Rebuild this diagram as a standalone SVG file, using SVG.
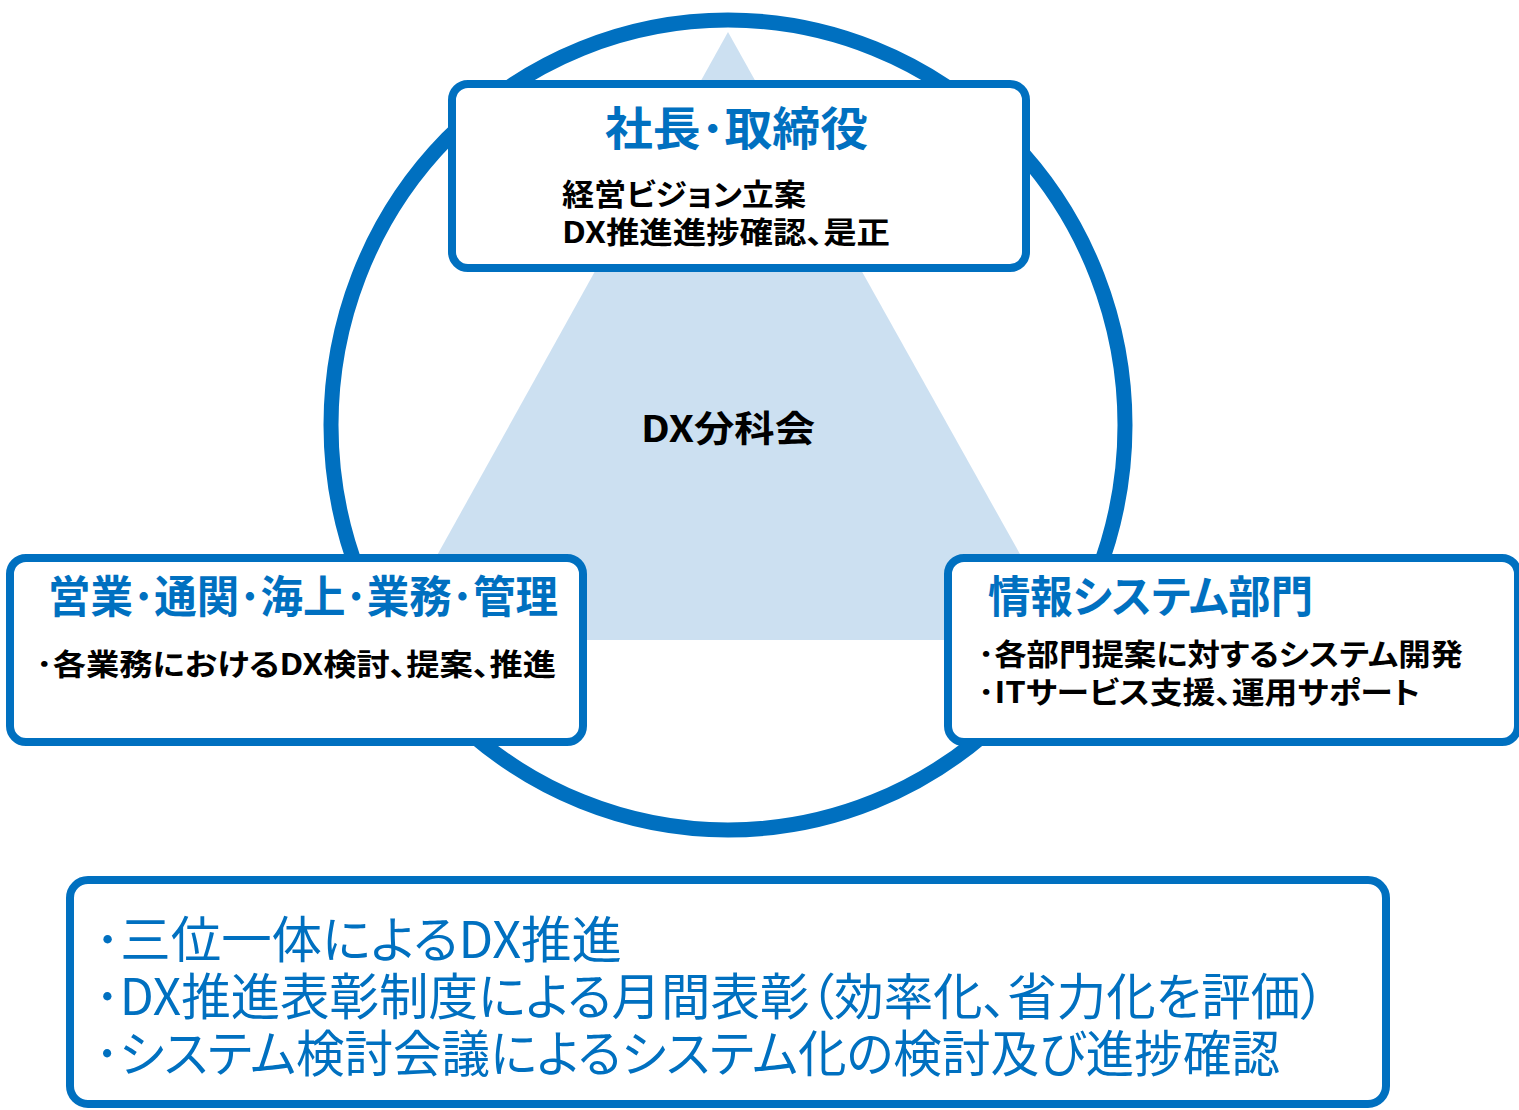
<svg xmlns="http://www.w3.org/2000/svg" width="1519" height="1110" viewBox="0 0 1519 1110">
<style>
text{font-feature-settings:"palt" 1}
.box{fill:#fff;stroke:#0070C0;stroke-width:8}
.ttl{font-family:"Noto Sans CJK JP","Noto Sans",sans-serif;font-weight:700;fill:#0070C0}
.body{font-family:"Noto Sans CJK JP","Noto Sans",sans-serif;font-weight:700;fill:#000}
.note{font-family:"Noto Sans CJK JP","Noto Sans",sans-serif;font-weight:400;fill:#0070C0}
</style>
<rect width="1519" height="1110" fill="#fff"/>
<g id="triangle">
<polygon points="728,32 390,640 1068,640" fill="#CCE0F1"/>
<text class="body" x="641" y="442" font-size="36" font-weight="500" textLength="174" lengthAdjust="spacingAndGlyphs">DX分科会</text>
</g>
<g id="connectors">
<ellipse cx="728" cy="425" rx="397" ry="405" fill="none" stroke="#0070C0" stroke-width="15"/>
</g>
<g id="top-node">
<rect class="box" x="452" y="84" width="574" height="184" rx="16"/>
<text class="ttl" x="605" y="145" font-size="46" textLength="263" lengthAdjust="spacingAndGlyphs">社長･取締役</text>
<text class="body" font-size="30"><tspan x="562" y="205" textLength="244" lengthAdjust="spacingAndGlyphs">経営ビジョン立案</tspan><tspan x="562" y="243" textLength="328" lengthAdjust="spacingAndGlyphs">DX推進進捗確認、是正</tspan></text>
</g>
<g id="left-node">
<rect class="box" x="10" y="558" width="573" height="184" rx="16"/>
<text class="ttl" x="48" y="613" font-size="44" textLength="510" lengthAdjust="spacingAndGlyphs">営業･通関･海上･業務･管理</text>
<text class="body" x="36" y="675" font-size="30" textLength="520" lengthAdjust="spacingAndGlyphs">･各業務におけるDX検討、提案、推進</text>
</g>
<g id="right-node">
<rect class="box" x="948" y="558" width="570" height="184" rx="16"/>
<text class="ttl" x="988" y="613" font-size="44" textLength="325" lengthAdjust="spacingAndGlyphs">情報システム部門</text>
<text class="body" font-size="30"><tspan x="978" y="665" textLength="485" lengthAdjust="spacingAndGlyphs">･各部門提案に対するシステム開発</tspan><tspan x="978" y="703" textLength="442" lengthAdjust="spacingAndGlyphs">･ITサービス支援、運用サポート</tspan></text>
</g>
<g id="bottom-node">
<rect class="box" x="70" y="880" width="1316" height="224" rx="18"/>
<text class="note" font-size="50"><tspan x="95" y="958" textLength="527" lengthAdjust="spacingAndGlyphs">･三位一体によるDX推進</tspan><tspan x="95" y="1015" textLength="1230" lengthAdjust="spacingAndGlyphs">･DX推進表彰制度による月間表彰（効率化、省力化を評価）</tspan><tspan x="95" y="1072" textLength="1185" lengthAdjust="spacingAndGlyphs">･システム検討会議によるシステム化の検討及び進捗確認</tspan></text>
</g>
</svg>
